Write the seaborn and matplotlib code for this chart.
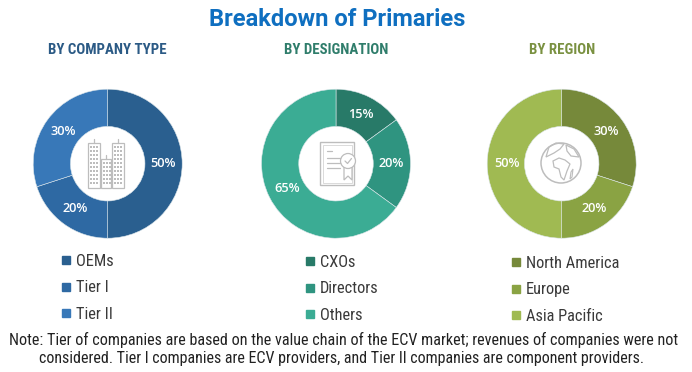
import matplotlib
matplotlib.use("Agg")
import matplotlib.pyplot as plt
from matplotlib.patches import Circle, Rectangle, Polygon
from matplotlib.lines import Line2D
import seaborn as sns

# chart values
company_labels = ["OEMs", "Tier I", "Tier II"]
company_values = [50, 20, 30]
designation_labels = ["CXOs", "Directors", "Others"]
designation_values = [15, 20, 65]
region_labels = ["North America", "Europe", "Asia Pacific"]
region_values = [30, 20, 50]

company_colors = ["#2A5F8F", "#2E69A3", "#3878B8"]
designation_colors = ["#287A68", "#2F9480", "#3BAC94"]
region_colors = ["#76893A", "#8AA343", "#A0BA52"]

sns.set_theme(style="white")
plt.rcParams["font.family"] = ["Roboto Condensed"]

W, H = 692, 372
fig = plt.figure(figsize=(W / 100, H / 100), dpi=100)
ICON = "#BDBDBD"


def box(x0, y0, x1, y1):
    # pixel box (y from the top) to figure fractions
    return [x0 / W, 1 - y1 / H, (x1 - x0) / W, (y1 - y0) / H]


def donut(cx, cy, values, colors):
    r = 74.5
    ax = fig.add_axes(box(cx - r, cy - r, cx + r, cy + r))
    ax.pie(
        values,
        colors=sns.color_palette(colors),
        startangle=90,
        counterclock=False,
        radius=1.0,
        autopct="%d%%",
        pctdistance=0.74,
        wedgeprops={"width": 0.5, "edgecolor": "#DCE6EA", "linewidth": 0.4},
        textprops={"color": "white", "fontsize": 9.2, "fontfamily": "Open Sans",
                   "fontweight": 600},
    )
    ax.set_xlim(-1, 1)
    ax.set_ylim(-1, 1)
    ax.set_aspect("equal")


def legend(labels, colors, x, y):
    handles = [
        Line2D([], [], marker="s", linestyle="", markersize=5.5, color=c) for c in colors
    ]
    fig.legend(
        handles,
        labels,
        loc="upper left",
        bbox_to_anchor=(x / W, 1 - y / H),
        frameon=False,
        fontsize=11.8,
        labelspacing=0.69,
        handlelength=0.5,
        handletextpad=0.35,
        borderpad=0,
        borderaxespad=0,
        labelcolor="#3A3A3A",
    )


donut(107.7, 163.7, company_values, company_colors)
donut(336, 163.7, designation_values, designation_colors)
donut(561.7, 163.7, region_values, region_colors)

legend(company_labels, company_colors, 62, 254)
legend(designation_labels, designation_colors, 306, 255)
legend(region_labels, region_colors, 512, 256)

# overlay in pixel coordinates for the centre icons
ov = fig.add_axes([0, 0, 1, 1], facecolor="none")
ov.set_xlim(0, W)
ov.set_ylim(H, 0)
ov.axis("off")

# buildings
for x0, y0, x1 in [(88, 143, 100), (101, 159, 111), (112, 143, 124)]:
    ov.add_patch(Rectangle((x0, y0), x1 - x0, 188 - y0, fill=False, ec=ICON, lw=0.9))
    ov.plot([(x0 + x1) / 2] * 2, [y0 - 4, y0], color=ICON, lw=0.9)
    for wx in range(x0 + 2, x1 - 1, 3):
        for wy in range(y0 + 3, 186, 4):
            ov.add_patch(Rectangle((wx, wy), 1.5, 2, color=ICON, lw=0))

# certificate
ov.add_patch(Rectangle((320, 142), 34, 43, fill=False, ec=ICON, lw=1.0))
ov.add_patch(Rectangle((322.5, 144.5), 29, 38, fill=False, ec="#D5D5D5", lw=0.6))
for ly, lx in [(158, 342), (163, 342), (168, 340)]:
    ov.plot([327, lx], [ly, ly], color=ICON, lw=0.9)
ov.plot([327, 332], [151, 151], color=ICON, lw=0.9)
ov.add_patch(Polygon([(344, 166), (344, 180), (348, 176), (352, 180), (352, 166)],
                     fc="white", ec=ICON, lw=0.9))
ov.add_patch(Circle((348, 161), 7.5, fc="white", ec=ICON, lw=0.9, zorder=3))
ov.plot([345, 347.5, 351.5], [161, 163.5, 158.5], color=ICON, lw=0.9, zorder=4)

# globe
ov.add_patch(Circle((561, 163), 20, fill=False, ec=ICON, lw=1.1))
ov.add_patch(Polygon([(553, 161), (559, 158), (565, 160), (570, 164), (567, 171),
                      (564, 180), (561, 177), (559, 169), (554, 167)],
                     fill=False, ec=ICON, lw=0.9))
ov.add_patch(Polygon([(549, 147), (556, 143), (564, 144), (560, 149), (554, 153),
                      (546, 157)], fill=False, ec=ICON, lw=0.9))
ov.add_patch(Polygon([(566, 145), (574, 149), (579, 157), (571, 156), (567, 151)],
                     fill=False, ec=ICON, lw=0.9))
ov.add_patch(Polygon([(571, 172), (573, 169), (572, 177), (570, 179)],
                     fill=False, ec=ICON, lw=0.8))

# titles and note
ov.text(337, 19, "Breakdown of Primaries", color="#0F6FC0", fontsize=17.1,
        fontweight="bold", ha="center", va="center", family="Roboto")
ov.text(107.5, 49.5, "BY COMPANY TYPE", color="#2B5A85", fontsize=10.7,
        fontweight="bold", ha="center", va="center")
ov.text(336, 49.5, "BY DESIGNATION", color="#2F7D6B", fontsize=10.7,
        fontweight="bold", ha="center", va="center")
ov.text(562, 49.5, "BY REGION", color="#7A9141", fontsize=10.7,
        fontweight="bold", ha="center", va="center")
ov.text(344, 340, "Note: Tier of companies are based on the value chain of the ECV market; "
        "revenues of companies were not", color="#222222", fontsize=11.6, ha="center", va="center")
ov.text(341.5, 358, "considered. Tier I companies are ECV providers, and Tier II companies are "
        "component providers.", color="#222222", fontsize=11.5, ha="center", va="center")

fig.savefig("out.png", dpi=100)
